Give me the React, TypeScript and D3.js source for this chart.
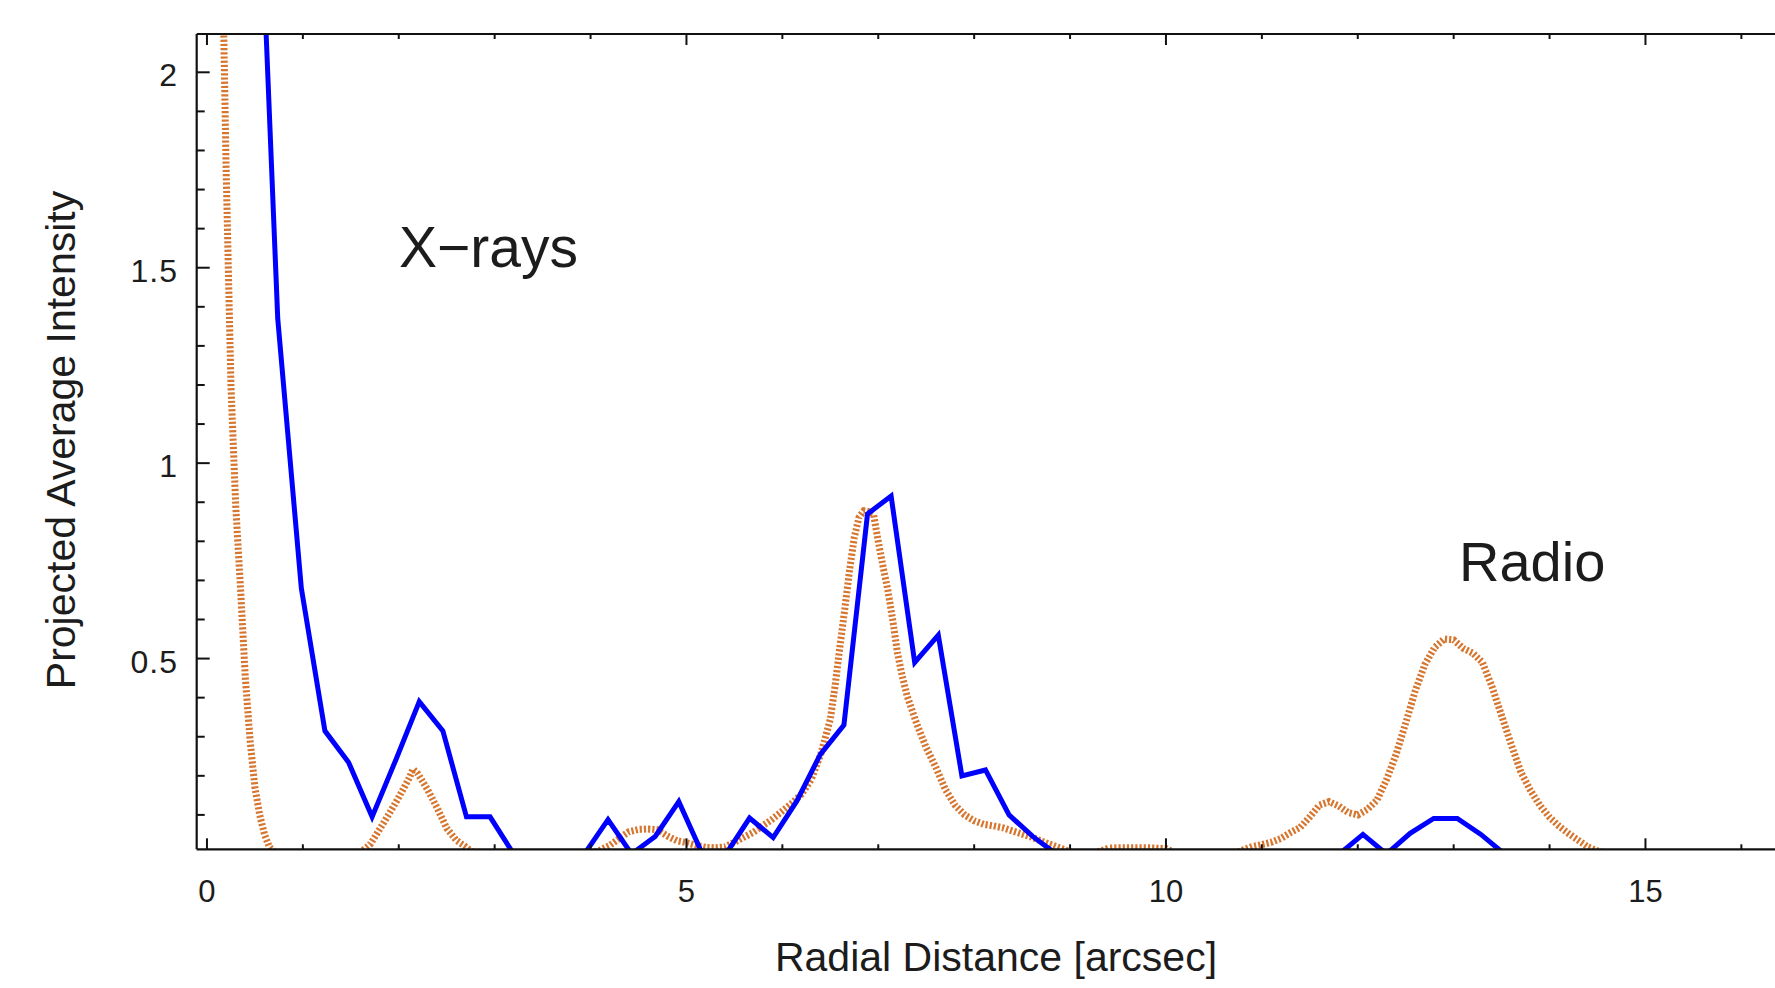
import React from 'react';
import * as d3 from 'd3';

// X-ray profile (blue, solid)
const xrayR = [0, 0.246, 0.492, 0.738, 0.984, 1.23, 1.476, 1.722, 1.968, 2.214, 2.46, 2.706, 2.952, 3.198, 3.444, 3.69, 3.936, 4.182, 4.428, 4.674, 4.92, 5.166, 5.412, 5.658, 5.904, 6.15, 6.396, 6.642, 6.888, 7.134, 7.38, 7.626, 7.872, 8.118, 8.364, 8.61, 8.856, 9.102, 9.348, 9.594, 9.84, 10.086, 10.332, 10.578, 10.824, 11.07, 11.316, 11.562, 11.808, 12.054, 12.3, 12.546, 12.792, 13.038, 13.284, 13.53, 13.776, 14.022, 14.268, 14.514, 14.76, 15.006, 15.252, 15.498, 15.744, 15.99, 16.236, 16.482];
const xrayI = [6.0, 4.5, 2.85, 1.37, 0.68, 0.315, 0.235, 0.095, 0.24, 0.39, 0.315, 0.095, 0.095, 0, 0, 0, 0, 0.088, 0, 0.045, 0.134, 0, 0, 0.092, 0.042, 0.135, 0.255, 0.33, 0.87, 0.916, 0.49, 0.56, 0.2, 0.215, 0.1, 0.045, 0, 0, 0, 0, 0, 0, 0, 0, 0, 0, 0, 0, 0, 0.05, 0, 0.053, 0.091, 0.091, 0.05, 0, 0, 0, 0, 0, 0, 0, 0, 0, 0, 0, 0, 0];

// Radio profile (orange, dotted)
const radioR = [0, 0.1, 0.15, 0.2, 0.25, 0.3, 0.35, 0.4, 0.45, 0.5, 0.55, 0.6, 0.65, 0.7, 0.8, 1.5, 1.6, 1.7, 1.8, 1.9, 2.0, 2.1, 2.15, 2.2, 2.3, 2.4, 2.5, 2.6, 2.7, 2.75, 2.8, 4.0, 4.1, 4.2, 4.3, 4.4, 4.5, 4.6, 4.7, 4.8, 4.9, 5.0, 5.1, 5.2, 5.3, 5.4, 5.5, 5.6, 5.7, 5.8, 5.9, 6.0, 6.1, 6.2, 6.3, 6.4, 6.5, 6.55, 6.6, 6.65, 6.7, 6.75, 6.8, 6.85, 6.9, 6.95, 7.0, 7.05, 7.1, 7.15, 7.2, 7.25, 7.3, 7.4, 7.5, 7.6, 7.7, 7.8, 7.9, 8.0, 8.1, 8.2, 8.3, 8.4, 8.5, 8.6, 8.7, 8.8, 8.9, 9.0, 9.1, 9.2, 9.3, 9.4, 9.5, 9.6, 9.7, 9.8, 9.9, 10.0, 10.05, 10.1, 10.7, 10.8, 10.9, 11.0, 11.1, 11.2, 11.3, 11.4, 11.5, 11.6, 11.7, 11.8, 11.9, 12.0, 12.1, 12.2, 12.3, 12.4, 12.5, 12.6, 12.7, 12.8, 12.9, 13.0, 13.1, 13.2, 13.3, 13.4, 13.5, 13.6, 13.7, 13.8, 13.9, 14.0, 14.1, 14.2, 14.3, 14.4, 14.5, 14.6, 16.5];
const radioI = [4.2, 3.3, 2.45, 1.75, 1.2, 0.89, 0.68, 0.45, 0.29, 0.17, 0.1, 0.05, 0.018, 0.005, 0, 0, 0.004, 0.024, 0.063, 0.103, 0.145, 0.19, 0.217, 0.205, 0.165, 0.118, 0.066, 0.035, 0.018, 0.008, 0, 0, 0.01, 0.022, 0.04, 0.057, 0.063, 0.064, 0.062, 0.046, 0.034, 0.029, 0.022, 0.017, 0.016, 0.018, 0.03, 0.043, 0.056, 0.073, 0.09, 0.11, 0.13, 0.153, 0.19, 0.255, 0.345, 0.43, 0.53, 0.625, 0.725, 0.81, 0.862, 0.878, 0.876, 0.87, 0.8, 0.735, 0.675, 0.6, 0.515, 0.455, 0.405, 0.334, 0.272, 0.222, 0.165, 0.125, 0.1, 0.085, 0.076, 0.072, 0.067, 0.059, 0.051, 0.043, 0.033, 0.024, 0.015, 0.006, 0, 0, 0.006, 0.015, 0.016, 0.016, 0.016, 0.016, 0.015, 0.014, 0.008, 0, 0, 0.01, 0.019, 0.024, 0.03, 0.04, 0.055, 0.068, 0.095, 0.125, 0.134, 0.123, 0.106, 0.1, 0.114, 0.138, 0.19, 0.255, 0.335, 0.418, 0.485, 0.528, 0.55, 0.548, 0.526, 0.514, 0.49, 0.428, 0.354, 0.28, 0.21, 0.163, 0.124, 0.094, 0.071, 0.052, 0.035, 0.018, 0.008, 0, 0];

const xMajorTicks = [0, 5, 10, 15];
const xTickLabels = ['0', '5', '10', '15'];
const xMinorTicks = [1, 2, 3, 4, 6, 7, 8, 9, 11, 12, 13, 14, 16];
const yMajorTicks = [0.5, 1, 1.5, 2];
const yTickLabels = ['0.5', '1', '1.5', '2'];
const yMinorTicks = [0.1, 0.2, 0.3, 0.4, 0.6, 0.7, 0.8, 0.9, 1.1, 1.2, 1.3, 1.4, 1.6, 1.7, 1.8, 1.9];

const FONT = "'Liberation Sans', Arial, Helvetica, sans-serif";

export default function App() {
  const W = 1775;
  const H = 988;
  const left = 196.7;
  const top = 34;
  const bottom = 849.3;
  const pxPerUnit = 95.9;
  const x = d3.scaleLinear().domain([-0.107, 17]).range([left, left + pxPerUnit * 17.107]);
  const y = d3.scaleLinear().domain([0.012, 2.098]).range([bottom, top]);

  const line = d3
    .line<[number, number]>()
    .x((d) => x(d[0]))
    .y((d) => y(d[1]));

  const xrayPts: [number, number][] = xrayR.map((r, i) => [r, xrayI[i]]);
  const radioPts: [number, number][] = radioR.map((r, i) => [r, radioI[i]]);

  const axisColor = '#111';
  const textColor = '#1c1c1c';

  return (
    <svg
      width={W}
      height={H}
      viewBox={`0 0 ${W} ${H}`}
      style={{ position: 'absolute', left: 0, top: 0, background: '#fff', display: 'block' }}
    >
      <defs>
        <clipPath id="plotClip">
          <rect x={left} y={top} width={W - left} height={bottom - top} />
        </clipPath>
      </defs>
      <rect x={0} y={0} width={W} height={H} fill="#fff" />

      <g clipPath="url(#plotClip)">
        <path
          d={line(radioPts) || ''}
          fill="none"
          stroke="#d6762f"
          strokeWidth={7}
          strokeDasharray="2.2 2"
        />
        <path d={line(xrayPts) || ''} fill="none" stroke="#0000ff" strokeWidth={5} strokeLinejoin="miter" />
      </g>

      {/* axes lines */}
      <line x1={left} x2={W} y1={top} y2={top} stroke={axisColor} strokeWidth={2.2} />
      <line x1={left} x2={W} y1={bottom} y2={bottom} stroke={axisColor} strokeWidth={2.2} />
      <line x1={left} x2={left} y1={top} y2={bottom} stroke={axisColor} strokeWidth={2.2} />

      {/* x ticks bottom and top */}
      {xMajorTicks.map((t) => (
        <g key={`xM${t}`}>
          <line x1={x(t)} x2={x(t)} y1={bottom} y2={bottom - 11} stroke={axisColor} strokeWidth={2} />
          <line x1={x(t)} x2={x(t)} y1={top} y2={top + 11} stroke={axisColor} strokeWidth={2} />
        </g>
      ))}
      {xMinorTicks.map((t) => (
        <g key={`xm${t}`}>
          <line x1={x(t)} x2={x(t)} y1={bottom} y2={bottom - 5} stroke={axisColor} strokeWidth={2} />
          <line x1={x(t)} x2={x(t)} y1={top} y2={top + 5} stroke={axisColor} strokeWidth={2} />
        </g>
      ))}
      {xMajorTicks.map((t, i) => (
        <text
          key={`xl${t}`}
          x={x(t)}
          y={901.5}
          textAnchor="middle"
          fontFamily={FONT}
          fontSize={31}
          fill={textColor}
        >
          {xTickLabels[i]}
        </text>
      ))}

      {/* y ticks */}
      {yMajorTicks.map((t) => (
        <line key={`yM${t}`} x1={left} x2={left + 13} y1={y(t)} y2={y(t)} stroke={axisColor} strokeWidth={2} />
      ))}
      {yMinorTicks.map((t) => (
        <line key={`ym${t}`} x1={left} x2={left + 8} y1={y(t)} y2={y(t)} stroke={axisColor} strokeWidth={2} />
      ))}
      {yMajorTicks.map((t, i) => (
        <text
          key={`yl${t}`}
          x={178}
          y={y(t) + 14}
          textAnchor="end"
          fontFamily={FONT}
          fontSize={32}
          letterSpacing={1}
          fill={textColor}
        >
          {yTickLabels[i]}
        </text>
      ))}

      {/* axis titles */}
      <text x={996} y={971} textAnchor="middle" fontFamily={FONT} fontSize={41} fill={textColor}>
        Radial Distance [arcsec]
      </text>
      <text
        transform="translate(74.5,440) rotate(-90)"
        textAnchor="middle"
        fontFamily={FONT}
        fontSize={41}
        fill={textColor}
      >
        Projected Average Intensity
      </text>

      {/* annotations */}
      <text x={399} y={266.7} fontFamily={FONT} fontSize={57} fill={textColor}>
        X−rays
      </text>
      <text x={1459} y={580.5} fontFamily={FONT} fontSize={56} fill={textColor}>
        Radio
      </text>
    </svg>
  );
}
